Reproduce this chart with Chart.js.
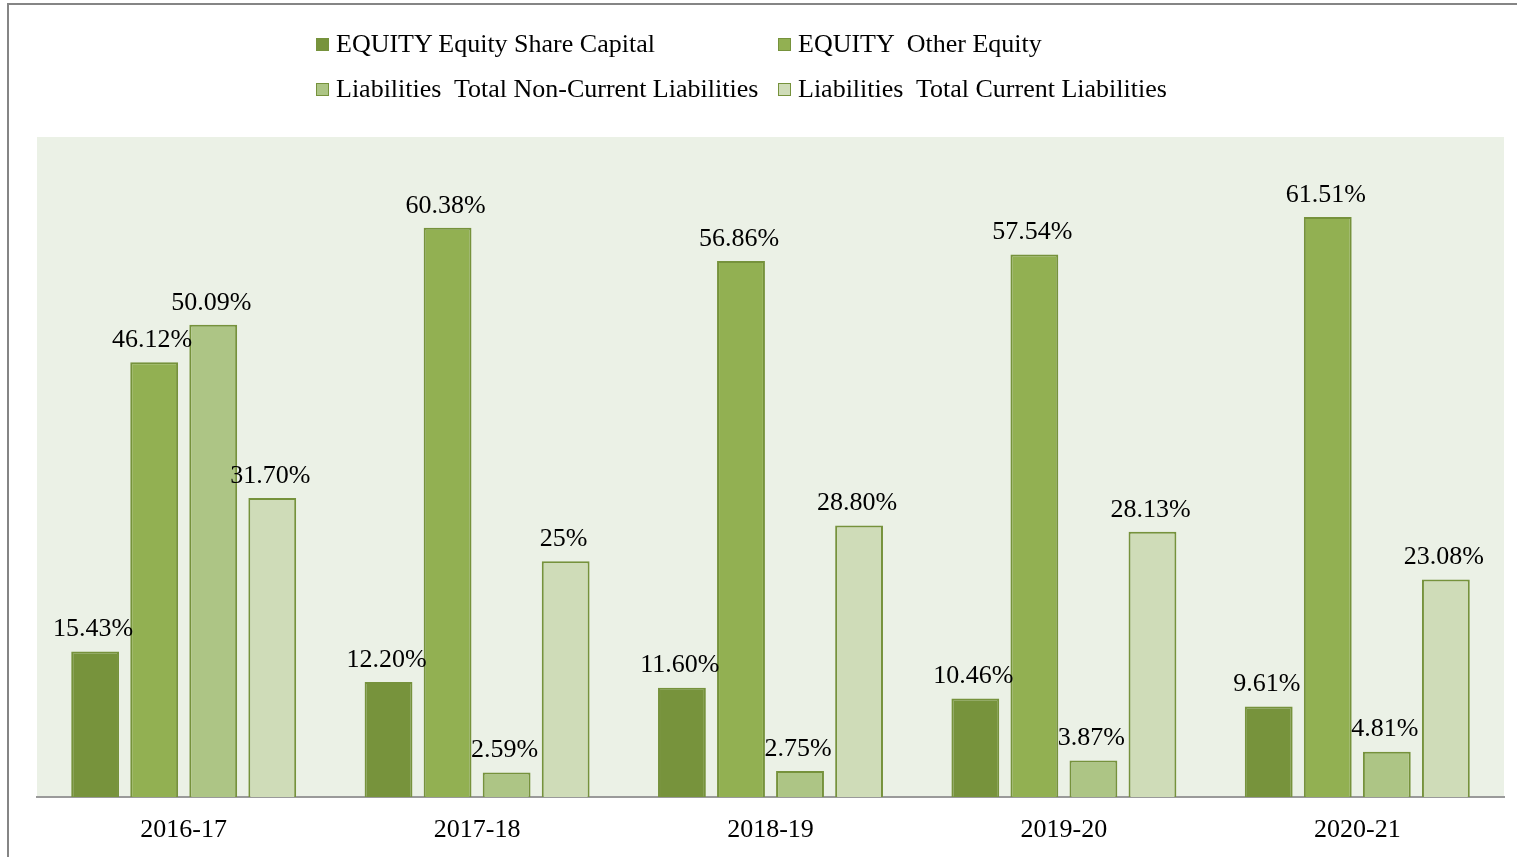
<!DOCTYPE html>
<html>
<head>
<meta charset="utf-8">
<script src="https://cdn.jsdelivr.net/npm/chart.js@4.4.1/dist/chart.umd.min.js"></script>
<style>
  html, body { margin: 0; padding: 0; background: #fff; }
  #wrap { position: relative; width: 1517px; height: 857px; overflow: hidden; }
  #frame { position: absolute; left: 7px; top: 3px; width: 1600px; height: 900px; border: 2px solid #858585; box-sizing: border-box; }
  #chart { position: absolute; left: 0; top: 0; }
  #legend { position: absolute; left: 316px; top: 28px; font-family: "Liberation Serif", "Times New Roman", serif; font-size: 26px; color: #000; }
  .item { position: absolute; white-space: pre; display: flex; align-items: center; height: 32px; }
  .box { width: 11px; height: 11px; border: 1px solid #76923c; margin-right: 7px; }
</style>
</head>
<body>
<div id="wrap">
  <div id="frame"></div>
  <canvas id="chart" width="1517" height="857"></canvas>
  <div id="legend"></div>
</div>
<script>
const years = ['2016-17', '2017-18', '2018-19', '2019-20', '2020-21'];
const seriesNames = [
  'EQUITY Equity Share Capital',
  'EQUITY  Other Equity',
  'Liabilities  Total Non-Current Liabilities',
  'Liabilities  Total Current Liabilities'
];
const shareCapital = [15.43, 12.20, 11.60, 10.46, 9.61];
const otherEquity = [46.12, 60.38, 56.86, 57.54, 61.51];
const nonCurrentLiab = [50.09, 2.59, 2.75, 3.87, 4.81];
const currentLiab = [31.70, 25, 28.80, 28.13, 23.08];
const fills = ['#77933c', '#92b052', '#adc585', '#cfdcb8'];

const fmt = v => Number.isInteger(v) ? v + '%' : v.toFixed(2) + '%';
const serif = '"Liberation Serif", "Times New Roman", serif';

// plot background
const plotBg = {
  id: 'plotBg',
  beforeDraw(chart) {
    const {ctx, chartArea: a} = chart;
    ctx.save();
    ctx.fillStyle = '#ebf1e6';
    ctx.fillRect(a.left, a.top, a.right - a.left, a.bottom - a.top);
    ctx.restore();
  }
};

// value labels above bars
const barLabels = {
  id: 'barLabels',
  afterDatasetsDraw(chart) {
    const ctx = chart.ctx;
    ctx.save();
    ctx.font = '26px ' + serif;
    ctx.fillStyle = '#000';
    ctx.textAlign = 'center';
    ctx.textBaseline = 'bottom';
    chart.data.datasets.forEach((ds, i) => {
      chart.getDatasetMeta(i).data.forEach((bar, j) => {
        ctx.fillText(fmt(ds.data[j]), bar.x - 2, bar.y - 9);
      });
    });
    ctx.restore();
  }
};

const allSeries = [shareCapital, otherEquity, nonCurrentLiab, currentLiab];

const chart = new Chart(document.getElementById('chart'), {
  type: 'bar',
  data: {
    labels: years,
    datasets: allSeries.map((d, i) => ({
      label: seriesNames[i],
      data: d,
      backgroundColor: fills[i],
      borderColor: '#76923c',
      borderWidth: 2,
      categoryPercentage: 0.805,
      barPercentage: 0.81
    }))
  },
  options: {
    responsive: false,
    animation: false,
    layout: { padding: { left: 37, right: 13, top: 137, bottom: 0 } },
    plugins: { legend: { display: false }, tooltip: { enabled: false } },
    scales: {
      x: {
        grid: { display: false, drawTicks: false },
        border: { color: '#9a9a9a', width: 2 },
        ticks: { color: '#000', padding: 18, font: { family: serif, size: 26 } },
        afterFit(scale) { scale.height = 60; }
      },
      y: { display: false, min: 0, max: 70 }
    }
  },
  plugins: [plotBg, barLabels]
});

// legend in two aligned columns
const legend = document.getElementById('legend');
const spots = [[0, 0], [462, 0], [0, 45], [462, 45]];
chart.data.datasets.forEach((ds, i) => {
  const el = document.createElement('div');
  el.className = 'item';
  el.style.left = spots[i][0] + 'px';
  el.style.top = spots[i][1] + 'px';
  const box = document.createElement('span');
  box.className = 'box';
  box.style.background = ds.backgroundColor;
  el.appendChild(box);
  el.appendChild(document.createTextNode(ds.label));
  legend.appendChild(el);
});
</script>
</body>
</html>
